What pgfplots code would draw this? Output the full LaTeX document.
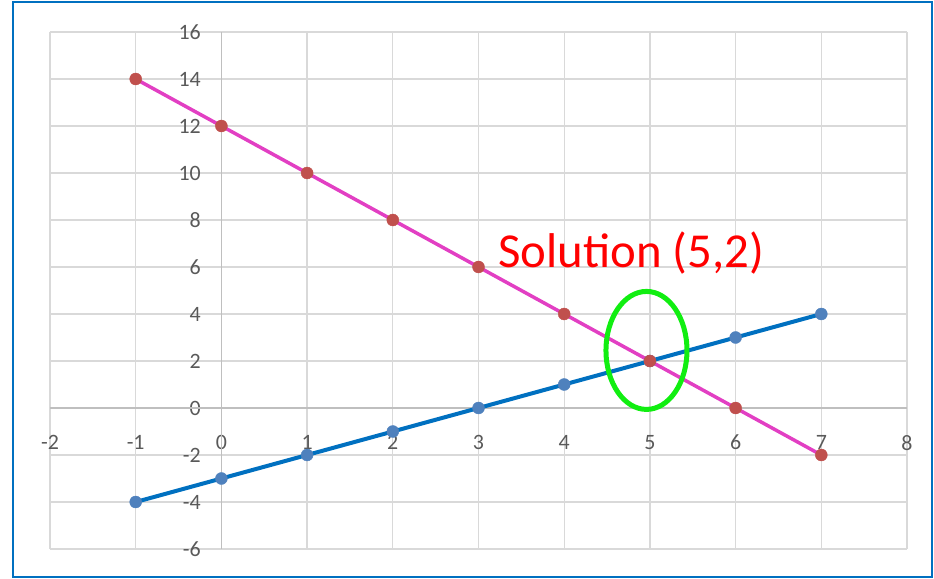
\documentclass[border=0pt]{standalone}
\usepackage{pgfplots}
\pgfplotsset{compat=1.18}
\usepackage{fontspec}
\setmainfont{Carlito}
\definecolor{lblue}{HTML}{0070C0}
\definecolor{mblue}{HTML}{4F81BD}
\definecolor{mred}{HTML}{C0504D}
\definecolor{magline}{HTML}{E23FC3}
\definecolor{gridc}{HTML}{D9D9D9}
\definecolor{axc}{HTML}{BFBFBF}
\definecolor{tickc}{HTML}{595959}
\definecolor{ellc}{HTML}{11EE11}
\begin{document}
\begin{tikzpicture}
\useasboundingbox (-50bp,-30bp) rectangle (884bp,549bp);
\begin{axis}[
  scale only axis, width=857bp, height=517bp,
  xmin=-2, xmax=8, ymin=-6, ymax=16,
  axis line style={draw=none},
  xtick={-2,-1,...,8}, ytick={-6,-4,...,16},
  grid=major, major grid style={draw=gridc, line width=1.3bp},
  major tick length=0pt,
  tick label style={font=\fontsize{22}{22}\selectfont, text=tickc, inner sep=0pt},
  /pgf/number format/assume math mode=true,
  xticklabel style={anchor=north, yshift=114bp},
  yticklabel style={anchor=east, xshift=151bp},
  clip=false,
]
\draw[axc, line width=1.3bp] (axis cs:-2,0) -- (axis cs:8,0);
\draw[axc, line width=1.3bp] (axis cs:0,-6) -- (axis cs:0,16);
\addplot[only marks, mark=*, mark size=6bp, mark options={fill=mblue, draw=mblue}] coordinates {
(-1,-4) (0,-3) (1,-2) (2,-1) (3,0) (4,1) (5,2) (6,3) (7,4)};
\addplot[only marks, mark=*, mark size=6bp, mark options={fill=mred, draw=mred}] coordinates {
(-1,14) (0,12) (1,10) (2,8) (3,6) (4,4) (5,2) (6,0) (7,-2)};
\addplot[magline, line width=3.5bp, no marks] coordinates {
(-1,14) (0,12) (1,10) (2,8) (3,6) (4,4) (5,2) (6,0) (7,-2)};
\addplot[lblue, line width=4bp, no marks] coordinates {
(-1,-4) (0,-3) (1,-2) (2,-1) (3,0) (4,1) (5,2) (6,3) (7,4)};
\draw[ellc, line width=5bp] (axis cs:4.96,2.45) ellipse [x radius=40.5bp, y radius=59bp];
\node[text=red, font=\fontsize{49}{49}\selectfont, anchor=base west, inner sep=0pt] at (axis cs:3.23,5.97) {Solution (5,2)};
\end{axis}
\draw[lblue, line width=2bp] (-37bp,-28bp) rectangle (882bp,547bp);
\end{tikzpicture}
\end{document}
